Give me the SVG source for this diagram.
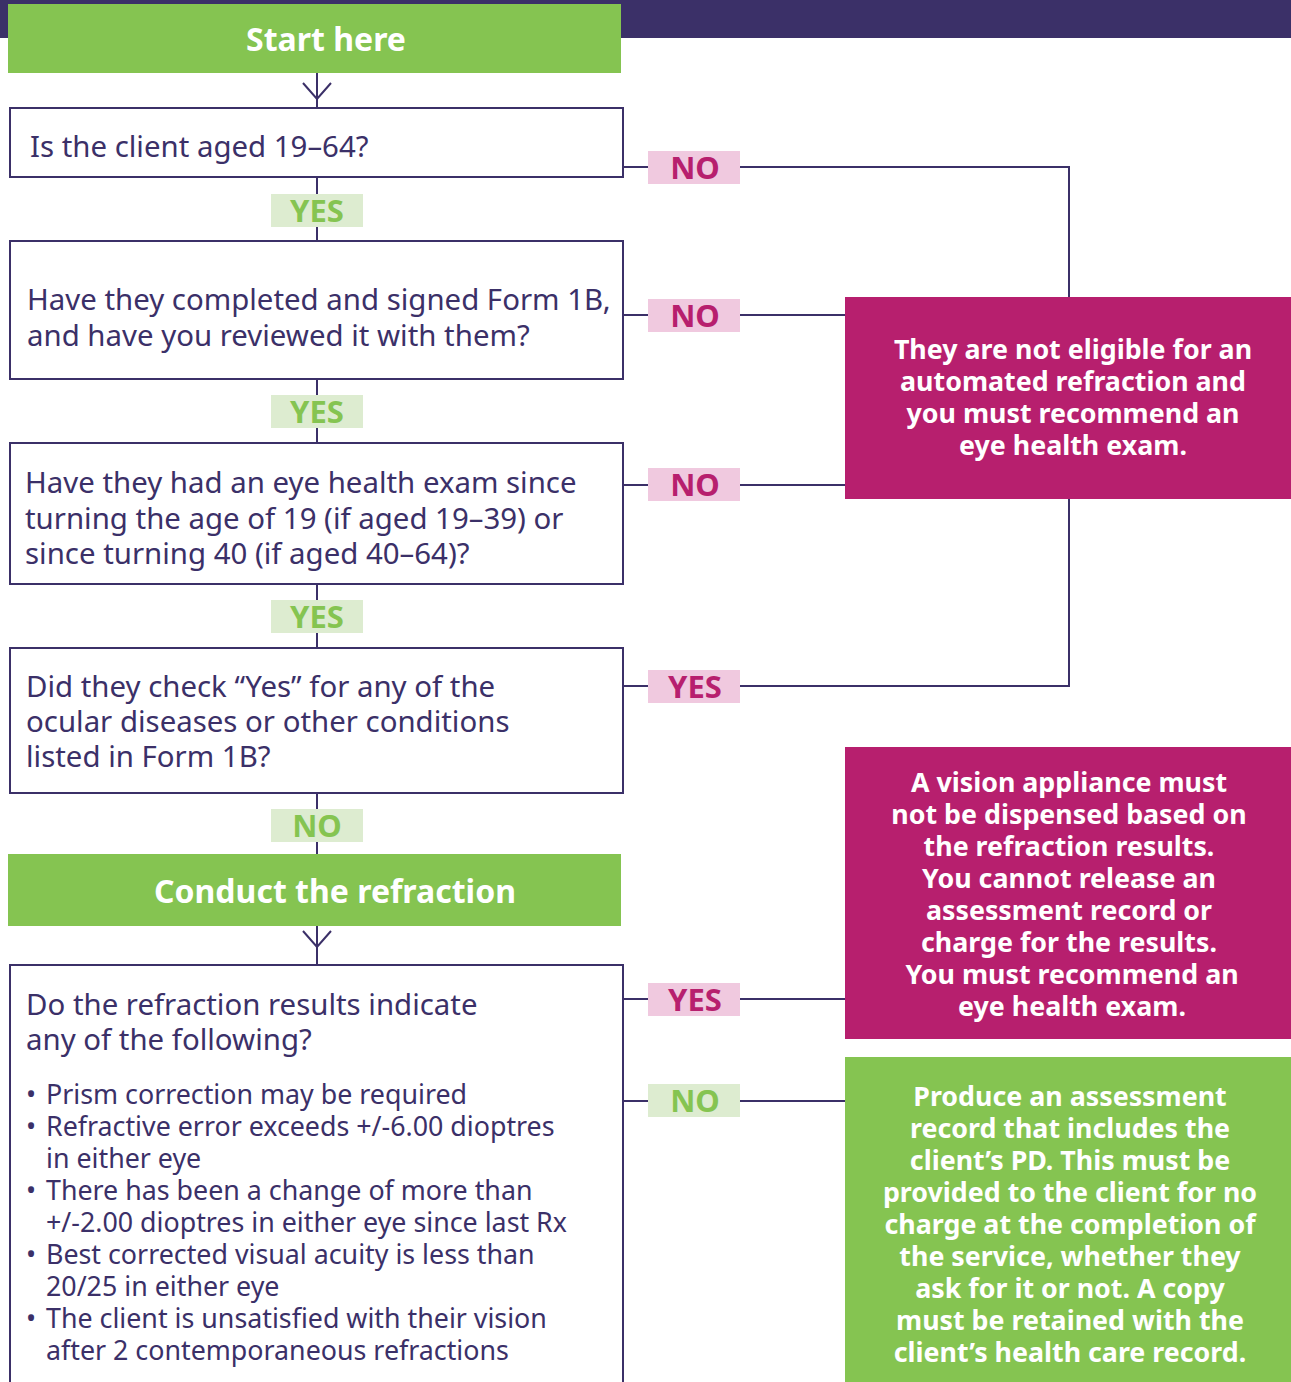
<svg xmlns="http://www.w3.org/2000/svg" width="1291" height="1382" viewBox="0 0 1291 1382">
<style>
.q{fill:#fff;stroke:#3b3068;stroke-width:2}
.t{font-family:"Noto Sans","Open Sans",sans-serif;fill:#3b3068;font-size:29.4px}
.b{font-family:"Noto Sans","Open Sans",sans-serif;fill:#3b3068;font-size:26.8px}
.w{font-family:"Noto Sans","Open Sans",sans-serif;fill:#fff;font-weight:bold;text-anchor:middle}
.m{font-size:26.8px}
.lab{font-family:"Noto Sans","Open Sans",sans-serif;font-weight:bold;font-size:31px;text-anchor:middle}
.pk{fill:#f0c9df}
.lg{fill:#ddecd0}
.pt{fill:#b71f6e}
.gt{fill:#85c451}
.c{stroke:#3b3068;stroke-width:2;fill:none}
</style>
<rect x="0" y="0" width="1291" height="38" fill="#3b3068"/>
<g id="connectors">
<path class="c" d="M317 73V108M303 83L317 99L331 83"/>
<path class="c" d="M317 177V241M317 379V443M317 584V648M317 793V854"/>
<path class="c" d="M317 926V965M303 931L317 947L331 931"/>
<path class="c" d="M623 167H648M740 167H1069V297"/>
<path class="c" d="M623 315H648M740 315H845"/>
<path class="c" d="M623 485H648M740 485H845"/>
<path class="c" d="M623 686H648M740 686H1069V499"/>
<path class="c" d="M623 999H648M740 999H845"/>
<path class="c" d="M623 1101H648M740 1101H845"/>
</g>
<g id="start">
<rect x="8" y="4" width="613" height="69" fill="#85c451"/>
<text class="w" x="326" y="51" font-size="32">Start here</text>
</g>
<g id="q1">
<rect class="q" x="10" y="108" width="613" height="69"/>
<text class="t" x="30" y="157">Is the client aged 19–64?</text>
</g>
<g id="q2">
<rect class="q" x="10" y="241" width="613" height="138"/>
<text class="t" x="27" y="310">Have they completed and signed Form 1B,</text>
<text class="t" x="27" y="346">and have you reviewed it with them?</text>
</g>
<g id="q3">
<rect class="q" x="10" y="443" width="613" height="141"/>
<text class="t" x="25" y="493">Have they had an eye health exam since</text>
<text class="t" x="25" y="529">turning the age of 19 (if aged 19–39) or</text>
<text class="t" x="25" y="564">since turning 40 (if aged 40–64)?</text>
</g>
<g id="q4">
<rect class="q" x="10" y="648" width="613" height="145"/>
<text class="t" x="26" y="697">Did they check “Yes” for any of the</text>
<text class="t" x="26" y="732">ocular diseases or other conditions</text>
<text class="t" x="26" y="767">listed in Form 1B?</text>
</g>
<g id="conduct">
<rect x="8" y="854" width="613" height="72" fill="#85c451"/>
<text class="w" x="335" y="903" font-size="32">Conduct the refraction</text>
</g>
<g id="q5">
<rect class="q" x="10" y="965" width="613" height="430"/>
<text class="t" x="26" y="1015">Do the refraction results indicate</text>
<text class="t" x="26" y="1050">any of the following?</text>
<text class="b" x="26" y="1104">• <tspan x="46">Prism correction may be required</tspan></text>
<text class="b" x="26" y="1136">• <tspan x="46">Refractive error exceeds +/-6.00 dioptres</tspan></text>
<text class="b" x="46" y="1168">in either eye</text>
<text class="b" x="26" y="1200">• <tspan x="46">There has been a change of more than</tspan></text>
<text class="b" x="46" y="1232">+/-2.00 dioptres in either eye since last Rx</text>
<text class="b" x="26" y="1264">• <tspan x="46">Best corrected visual acuity is less than</tspan></text>
<text class="b" x="46" y="1296">20/25 in either eye</text>
<text class="b" x="26" y="1328">• <tspan x="46">The client is unsatisfied with their vision</tspan></text>
<text class="b" x="46" y="1360">after 2 contemporaneous refractions</text>
</g>
<g id="notEligible">
<rect x="845" y="297" width="446" height="202" fill="#b71f6e"/>
<text class="w m" x="1073" y="359">They are not eligible for an</text>
<text class="w m" x="1073" y="391">automated refraction and</text>
<text class="w m" x="1073" y="423">you must recommend an</text>
<text class="w m" x="1073" y="455">eye health exam.</text>
</g>
<g id="noDispense">
<rect x="845" y="747" width="446" height="292" fill="#b71f6e"/>
<text class="w m" x="1069" y="792">A vision appliance must</text>
<text class="w m" x="1069" y="824">not be dispensed based on</text>
<text class="w m" x="1069" y="856">the refraction results.</text>
<text class="w m" x="1069" y="888">You cannot release an</text>
<text class="w m" x="1069" y="920">assessment record or</text>
<text class="w m" x="1069" y="952">charge for the results.</text>
<text class="w m" x="1072" y="984">You must recommend an</text>
<text class="w m" x="1072" y="1016">eye health exam.</text>
</g>
<g id="produce">
<rect x="845" y="1057" width="446" height="330" fill="#85c451"/>
<text class="w m" x="1070" y="1106">Produce an assessment</text>
<text class="w m" x="1070" y="1138">record that includes the</text>
<text class="w m" x="1070" y="1170">client’s PD. This must be</text>
<text class="w m" x="1070" y="1202">provided to the client for no</text>
<text class="w m" x="1070" y="1234">charge at the completion of</text>
<text class="w m" x="1070" y="1266">the service, whether they</text>
<text class="w m" x="1070" y="1298">ask for it or not. A copy</text>
<text class="w m" x="1070" y="1330">must be retained with the</text>
<text class="w m" x="1070" y="1362">client’s health care record.</text>
</g>
<g id="labels">
<rect class="lg" x="271" y="194" width="92" height="33"/><text class="lab gt" x="317" y="222">YES</text>
<rect class="lg" x="271" y="395" width="92" height="33"/><text class="lab gt" x="317" y="423">YES</text>
<rect class="lg" x="271" y="600" width="92" height="33"/><text class="lab gt" x="317" y="628">YES</text>
<rect class="lg" x="271" y="809" width="92" height="33"/><text class="lab gt" x="317" y="837">NO</text>
<rect class="pk" x="648" y="151" width="92" height="33"/><text class="lab pt" x="695" y="179">NO</text>
<rect class="pk" x="648" y="299" width="92" height="33"/><text class="lab pt" x="695" y="327">NO</text>
<rect class="pk" x="648" y="468" width="92" height="33"/><text class="lab pt" x="695" y="496">NO</text>
<rect class="pk" x="648" y="670" width="92" height="33"/><text class="lab pt" x="695" y="698">YES</text>
<rect class="pk" x="648" y="983" width="92" height="33"/><text class="lab pt" x="695" y="1011">YES</text>
<rect class="lg" x="648" y="1084" width="92" height="33"/><text class="lab gt" x="695" y="1112">NO</text>
</g>
</svg>
